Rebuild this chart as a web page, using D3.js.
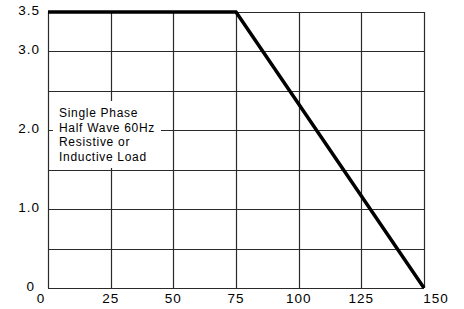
<!DOCTYPE html>
<html>
<head>
<meta charset="utf-8">
<script src="https://cdn.jsdelivr.net/npm/d3@7"></script>
<style>
  body { margin: 0; background: #fff; }
  text { font-family: "Liberation Sans", Arial, sans-serif; fill: #000; }
</style>
</head>
<body>
<script>
// data
var curveX = [0, 75, 150];
var curveY = [3.5, 3.5, 0];
var xGrid = [0, 25, 50, 75, 100, 125, 150];
var yGrid = [0, 0.5, 1.0, 1.5, 2.0, 2.5, 3.0, 3.5];
var yLabels = ["0", "1.0", "2.0", "3.0", "3.5"];
var noteLines = ["Single Phase", "Half Wave 60Hz", "Resistive or", "Inductive Load"];

var width = 464, height = 309;
var plot = {left: 48, right: 424, top: 12, bottom: 288};

var svg = d3.select("body").append("svg")
  .attr("width", width)
  .attr("height", height);

var x = d3.scaleLinear().domain([0, 150]).range([plot.left, plot.right]);
var y = d3.scaleLinear().domain([0, 3.5]).range([plot.bottom, plot.top]);

// grid
svg.selectAll(".hgrid").data(yGrid).enter().append("line")
  .attr("class", "hgrid")
  .attr("x1", plot.left).attr("x2", plot.right)
  .attr("y1", function(d){ return Math.round(y(d)) + 0.5; })
  .attr("y2", function(d){ return Math.round(y(d)) + 0.5; })
  .attr("stroke", "#2a2a2a").attr("stroke-width", 1.2);

svg.selectAll(".vgrid").data(xGrid).enter().append("line")
  .attr("class", "vgrid")
  .attr("y1", plot.top).attr("y2", plot.bottom)
  .attr("x1", function(d){ return Math.round(x(d)) + 0.5; })
  .attr("x2", function(d){ return Math.round(x(d)) + 0.5; })
  .attr("stroke", "#2a2a2a").attr("stroke-width", 1.2);

// note box covers the grid behind it
svg.append("rect")
  .attr("x", 53).attr("y", 101)
  .attr("width", 108).attr("height", 67)
  .attr("fill", "#fff");

svg.selectAll(".note").data(noteLines).enter().append("text")
  .attr("class", "note")
  .attr("x", 59)
  .attr("y", function(d,i){ return 117 + i*14.6; })
  .attr("font-size", 12)
  .attr("letter-spacing", 0.7)
  .text(function(d){ return d; });

// curve
var line = d3.line()
  .x(function(d){ return x(d); })
  .y(function(d,i){ return y(curveY[i]); });

svg.append("path")
  .datum(curveX)
  .attr("d", line)
  .attr("fill", "none")
  .attr("stroke", "#000")
  .attr("stroke-width", 3.5)
  .attr("stroke-linejoin", "miter");

// y labels
svg.selectAll(".ylab").data(yLabels).enter().append("text")
  .attr("class", "ylab")
  .attr("x", function(d){ return d === "0" ? 35 : 40; })
  .attr("y", function(d){ return y(+d) + 3; })
  .attr("text-anchor", "end")
  .attr("font-size", 13.5)
  .attr("letter-spacing", 1)
  .text(function(d){ return d; });

// x labels
svg.selectAll(".xlab").data(xGrid).enter().append("text")
  .attr("class", "xlab")
  .attr("x", function(d,i){
    var off = 0;
    if (i === 0) off = -7;
    if (i === xGrid.length - 1) off = 12;
    return x(d) + off;
  })
  .attr("y", plot.bottom + 15)
  .attr("text-anchor", "middle")
  .attr("font-size", 13.5)
  .attr("letter-spacing", 1)
  .text(function(d){ return d; });
</script>
</body>
</html>
